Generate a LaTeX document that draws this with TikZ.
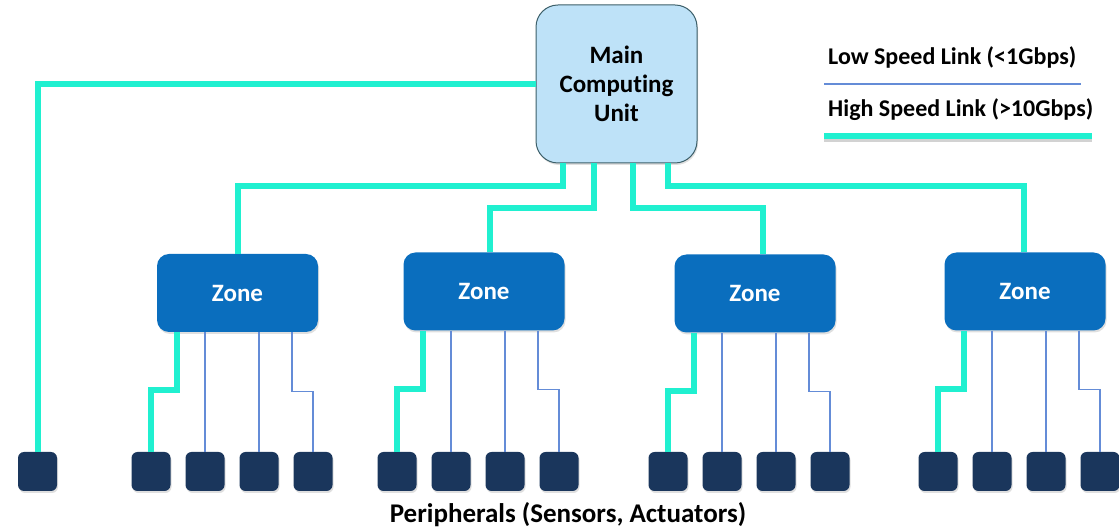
\documentclass[tikz,border=0pt]{standalone}
\usepackage{fontspec}
\setmainfont{Carlito}[Ligatures=NoCommon]
\usetikzlibrary{shadows}
\definecolor{mcufill}{RGB}{190,226,248}
\definecolor{mcuedge}{RGB}{60,95,105}
\definecolor{zonefill}{RGB}{10,110,190}
\definecolor{perifill}{RGB}{26,54,92}
\definecolor{fastcol}{RGB}{32,240,208}
\definecolor{slowcol}{RGB}{100,140,215}
\tikzset{
  mcubox/.style={draw=mcuedge,line width=1pt,fill=mcufill,rounded corners=22pt,
    minimum width=161pt,minimum height=158pt,align=center,
    font=\fontsize{25}{29}\selectfont\bfseries,
    drop shadow={shadow xshift=1pt,shadow yshift=-2pt,opacity=0.25}},
  zonebox/.style={fill=zonefill,rounded corners=12pt,minimum width=161pt,
    minimum height=78pt,text=white,font=\fontsize{25}{29}\selectfont\bfseries,
    drop shadow={shadow xshift=1pt,shadow yshift=-2pt,opacity=0.25}},
  peribox/.style={fill=perifill,rounded corners=6pt,minimum width=39pt,
    minimum height=39pt,inner sep=0pt,
    drop shadow={shadow xshift=1pt,shadow yshift=-2pt,opacity=0.25}},
  fast/.style={draw=fastcol,line width=6pt},
  slow/.style={draw=slowcol,line width=1.2pt},
  legtext/.style={anchor=west,inner sep=0pt,font=\fontsize{24}{28}\selectfont\bfseries}
}
\begin{document}
\begin{tikzpicture}[x=1pt,y=1pt]
\useasboundingbox (0,0) rectangle (1119,530);
% Drawing nodes
\node[mcubox] (mcu) at (616.5,446) {Main\\Computing\\Unit};
\node[zonebox] (z1) at (237.5,237) {Zone};
\node[zonebox] (z2) at (484,238.5) {Zone};
\node[zonebox] (z3) at (755,236.5) {Zone};
\node[zonebox] (z4) at (1025,238.5) {Zone};
% Peripherals
\node[peribox] (p0) at (37.5,58.5) {};
\node[peribox] (p11) at (151,58.5) {};
\node[peribox] (p12) at (205,58.5) {};
\node[peribox] (p13) at (259,58.5) {};
\node[peribox] (p14) at (313,58.5) {};
\node[peribox] (p21) at (397,58.5) {};
\node[peribox] (p22) at (451,58.5) {};
\node[peribox] (p23) at (505,58.5) {};
\node[peribox] (p24) at (559,58.5) {};
\node[peribox] (p31) at (668,58.5) {};
\node[peribox] (p32) at (722,58.5) {};
\node[peribox] (p33) at (776,58.5) {};
\node[peribox] (p34) at (830,58.5) {};
\node[peribox] (p41) at (938,58.5) {};
\node[peribox] (p42) at (992,58.5) {};
\node[peribox] (p43) at (1046,58.5) {};
\node[peribox] (p44) at (1100,58.5) {};
\node[anchor=base,inner sep=0pt,font=\fontsize{27}{31}\selectfont\bfseries] (plabel) at (568,7) {Peripherals (Sensors, Actuators)};
% Legend
\node[legtext] (lowtxt) at (828,473) {Low Speed Link (<1Gbps)};
\node[legtext] (hightxt) at (828,420) {High Speed Link (>10Gbps)};
\coordinate (lowa) at (824,446);
\coordinate (lowb) at (1081,446);
\coordinate (higha) at (824,394);
\coordinate (highb) at (1092,394);
\draw[draw=black!35,line width=6pt,opacity=0.5] ([yshift=-3pt]higha) -- ([yshift=-3pt]highb);
\draw[slow] (lowa) -- (lowb);
\draw[fast] (higha) -- (highb);
% Links from main unit
\draw[fast] (mcu.west) -| (p0.north);
\draw[fast] ([xshift=-53.5pt]mcu.south) -- ++(0,-23) -| (z1.north);
\draw[fast] ([xshift=-22.5pt]mcu.south) -- ++(0,-45) -| ([xshift=6pt]z2.north);
\draw[fast] ([xshift=16.5pt]mcu.south) -- ++(0,-45) -| ([xshift=8pt]z3.north);
\draw[fast] ([xshift=51.5pt]mcu.south) -- ++(0,-23) -| ([xshift=-1pt]z4.north);
% Zone 1
\draw[fast] ([xshift=-60.5pt]z1.south) -- ++(0,-58) -| (p11.north);
\draw[slow] (p12.north |- z1.south) -- (p12.north);
\draw[slow] (p13.north |- z1.south) -- (p13.north);
\draw[slow] ([xshift=54.5pt]z1.south) -- ++(0,-59) -| (p14.north);
% Zone 2
\draw[fast] ([xshift=-61pt]z2.south) -- ++(0,-58) -| (p21.north);
\draw[slow] (p22.north |- z2.south) -- (p22.north);
\draw[slow] (p23.north |- z2.south) -- (p23.north);
\draw[slow] ([xshift=54pt]z2.south) -- ++(0,-59) -| (p24.north);
% Zone 3
\draw[fast] ([xshift=-61pt]z3.south) -- ++(0,-58) -| (p31.north);
\draw[slow] (p32.north |- z3.south) -- (p32.north);
\draw[slow] (p33.north |- z3.south) -- (p33.north);
\draw[slow] ([xshift=54pt]z3.south) -- ++(0,-59) -| (p34.north);
% Zone 4
\draw[fast] ([xshift=-61pt]z4.south) -- ++(0,-58) -| (p41.north);
\draw[slow] (p42.north |- z4.south) -- (p42.north);
\draw[slow] (p43.north |- z4.south) -- (p43.north);
\draw[slow] ([xshift=54pt]z4.south) -- ++(0,-59) -| (p44.north);
\end{tikzpicture}
\end{document}
